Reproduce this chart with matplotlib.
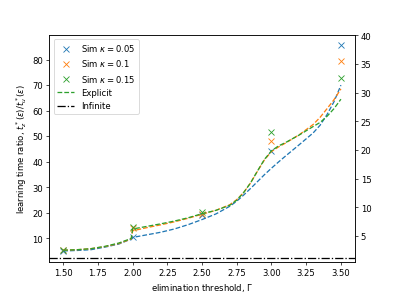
from matplotlib import pyplot as plt

# elimination thresholds of the simulations
SIM_GAMMA = [1.5, 2.0, 2.5, 3.0, 3.5]
SIM_K005 = [5.2, 10.5, 19.0, 44.4, 85.9]
SIM_K010 = [5.4, 14.0, 19.6, 48.1, 79.4]
SIM_K015 = [5.4, 14.5, 20.2, 51.6, 72.6]

# explicit formula, evaluated on a grid (jump at gamma = 2)
EXP_GAMMA = [1.5, 1.6, 1.7, 1.8, 1.9, 1.95, 1.99, 2.0, 2.05, 2.1, 2.2, 2.3, 2.4, 2.5,
             2.6, 2.7, 2.75, 2.8, 2.85, 2.9, 2.95, 3.0, 3.05, 3.1, 3.2, 3.3, 3.35, 3.4, 3.45, 3.5]
EXP_K005 = [5.1, 5.3, 5.6, 6.6, 7.8, 8.9, 9.8, 10.4, 10.9, 11.4, 12.4, 13.7, 15.4, 17.4,
            19.6, 22.6, 24.6, 27.0, 29.6, 32.3, 35.0, 37.5, 39.9, 42.2, 46.7, 51.3, 54.3, 58.5, 63.5, 70.0]
EXP_K010 = [5.4, 5.6, 6.0, 6.8, 8.0, 9.0, 9.8, 13.0, 13.6, 14.2, 15.3, 16.5, 17.9, 19.5,
            21.0, 23.2, 25.2, 28.0, 31.8, 36.4, 40.8, 44.0, 45.8, 47.3, 50.6, 54.6, 57.4, 60.8, 64.3, 68.5]
EXP_K015 = [5.4, 5.6, 6.0, 6.9, 8.2, 9.2, 10.0, 13.7, 14.2, 14.7, 15.7, 16.8, 18.1, 19.7,
            21.0, 23.0, 25.0, 28.0, 31.8, 36.5, 41.0, 44.3, 46.2, 47.5, 50.5, 53.8, 55.4, 57.8, 60.8, 64.5]

INFINITE = 2.3


def main():
    fig: plt.Figure = plt.figure(figsize=(6.4, 4.8), dpi=61.6)
    ax1: plt.Axes = fig.subplots()
    ax2: plt.Axes = ax1.twinx()

    ax1.plot(SIM_GAMMA, SIM_K005, "x", color="C0", label=r"Sim $\kappa = 0.05$")
    ax1.plot(SIM_GAMMA, SIM_K010, "x", color="C1", label=r"Sim $\kappa = 0.1$")
    ax1.plot(SIM_GAMMA, SIM_K015, "x", color="C2", label=r"Sim $\kappa = 0.15$")
    ax1.plot(EXP_GAMMA, EXP_K005, "--", color="C0")
    ax1.plot(EXP_GAMMA, EXP_K010, "--", color="C1")
    ax1.plot(EXP_GAMMA, EXP_K015, "--", color="C2", label="Explicit")
    ax1.axhline(INFINITE, color="black", linestyle="-.", label="Infinite")

    ax1.set_xlim(1.4, 3.6)
    ax1.set_ylim(0.6, 89.7)
    ax2.set_ylim(0.4, 40.1)
    ax1.set_yticks([10, 20, 30, 40, 50, 60, 70, 80])
    ax2.set_yticks([5, 10, 15, 20, 25, 30, 35, 40])

    ax1.set_xlabel(r"elimination threshold, $\Gamma$")
    ax1.set_ylabel(r"learning time ratio, $t_z^*(\varepsilon)/t_u^*(\varepsilon)$")
    ax1.legend(loc="upper left")
    fig.savefig("out.png")


if __name__ == '__main__':
    main()
